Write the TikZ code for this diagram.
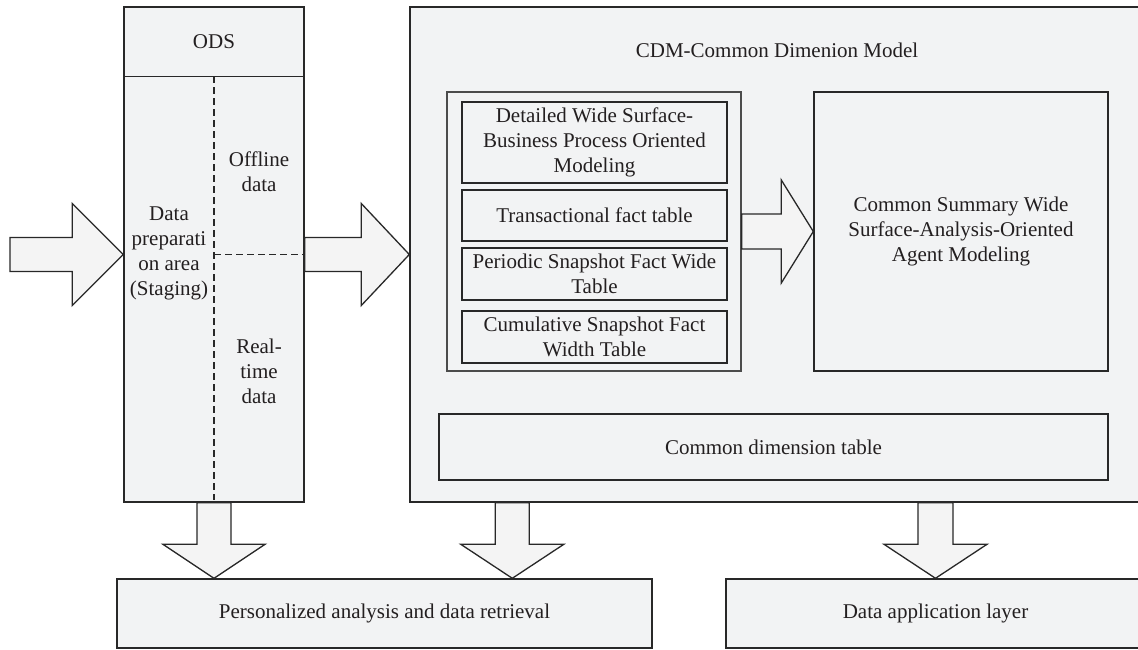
\documentclass[tikz,border=0pt]{standalone}
\usepackage{fontspec}
\setmainfont{Liberation Serif}
\usetikzlibrary{calc}
\definecolor{boxfill}{RGB}{242,243,244}
\definecolor{arrowfill}{RGB}{244,244,244}
\definecolor{boxline}{RGB}{40,40,40}
\definecolor{groupline}{RGB}{75,75,75}
\definecolor{textcol}{RGB}{35,31,32}
\newcommand\fs{\fontsize{21}{25}\selectfont}
\newcommand\hblock[5]{%
  \draw[blockarrow] let \p1=(#1), \p2=(#2) in
    (\x1,\y2+#3) -- (\x2-#5,\y2+#3) -- (\x2-#5,\y2+#4) -- (\x2,\y2)
    -- (\x2-#5,\y2-#4) -- (\x2-#5,\y2-#3) -- (\x1,\y2-#3) -- cycle;}
\newcommand\vblock[5]{%
  \draw[blockarrow] let \p1=(#1), \p2=(#2) in
    (\x2-#3,\y1) -- (\x2-#3,\y2+#5) -- (\x2-#4,\y2+#5) -- (\x2,\y2)
    -- (\x2+#4,\y2+#5) -- (\x2+#3,\y2+#5) -- (\x2+#3,\y1) -- cycle;}
\begin{document}
\begin{tikzpicture}[x=1pt,y=-1pt,
  box/.style={draw=boxline, fill=boxfill, line width=1.4pt, inner sep=0pt, align=center, font=\fs, text=textcol},
  groupbox/.style={box, draw=groupline},
  txt/.style={inner sep=0pt, align=center, font=\fs, text=textcol},
  blockarrow/.style={draw=boxline, fill=arrowfill, line width=1.3pt, line join=miter},
  divider/.style={draw=boxline, line width=1.3pt, dash pattern=on 7pt off 4pt}]
\clip (0,0) rectangle (1138,650);
\fill[white] (0,0) rectangle (1138,650);

% ODS column
\node[box, minimum width=180pt, minimum height=495pt] (ods) at (214,254.5) {};
\draw[draw=boxline, line width=1.4pt] ($(ods.north west)+(0,70)$) -- ($(ods.north east)+(0,70)$);
\node[txt] (odst) at (214,42) {ODS};
\draw[divider] ($(ods.north)+(0,70)$) -- ($(ods.south)+(0,-3)$);
\draw[divider] (ods.center) -- (ods.east);
\node[txt] (staging) at (169,253) {Data\\preparati\\on area\\(Staging)};
\node[txt] (offline) at (259,172) {Offline\\data};
\node[txt] (realtime) at (259,371) {Real-\\time\\data};

% CDM container
\node[box, minimum width=734pt, minimum height=495pt] (cdm) at (777,254.5) {};
\node[txt] (cdmt) at (777,50) {CDM-Common Dimenion Model};
\node[groupbox, minimum width=294pt, minimum height=279pt] (group) at (594,231.5) {};
\node[box, minimum width=265pt, minimum height=81pt] (sub1) at (594.5,142.5)
  {Detailed Wide Surface-\\Business Process Oriented\\Modeling};
\node[box, minimum width=265pt, minimum height=51pt] (sub2) at (594.5,215.5)
  {Transactional fact table};
\node[box, minimum width=265pt, minimum height=52pt] (sub3) at (594.5,274)
  {Periodic Snapshot Fact Wide\\Table};
\node[box, minimum width=265pt, minimum height=52pt] (sub4) at (594.5,337)
  {Cumulative Snapshot Fact\\Width Table};
\node[box, minimum width=294pt, minimum height=279pt] (summary) at (961,231.5)
  {Common Summary Wide\\Surface-Analysis-Oriented\\Agent Modeling};
\node[box, minimum width=669pt, minimum height=66pt] (dim) at (773.5,447)
  {Common dimension table};

% bottom layer
\node[box, minimum width=535pt, minimum height=69pt] (pers) at (384.5,613.5)
  {Personalized analysis and data retrieval};
\node[box, minimum width=419pt, minimum height=69pt] (data) at (935.5,613.5)
  {Data application layer};

% block arrows
\coordinate (src) at (10,254.5);
\hblock{src}{ods.west}{17pt}{51pt}{51pt}
\hblock{ods.east}{cdm.west}{17pt}{51pt}{48pt}
\hblock{group.east}{summary.west}{17.5pt}{51.5pt}{32pt}
\vblock{ods.south}{ods.south |- pers.north}{17pt}{51pt}{34pt}
\coordinate (cdmout) at ($(cdm.south west)+(103,0)$);
\vblock{cdmout}{cdmout |- pers.north}{17pt}{51.5pt}{34pt}
\vblock{data.north |- cdm.south}{data.north}{17.5pt}{51.5pt}{34pt}
\end{tikzpicture}
\end{document}
